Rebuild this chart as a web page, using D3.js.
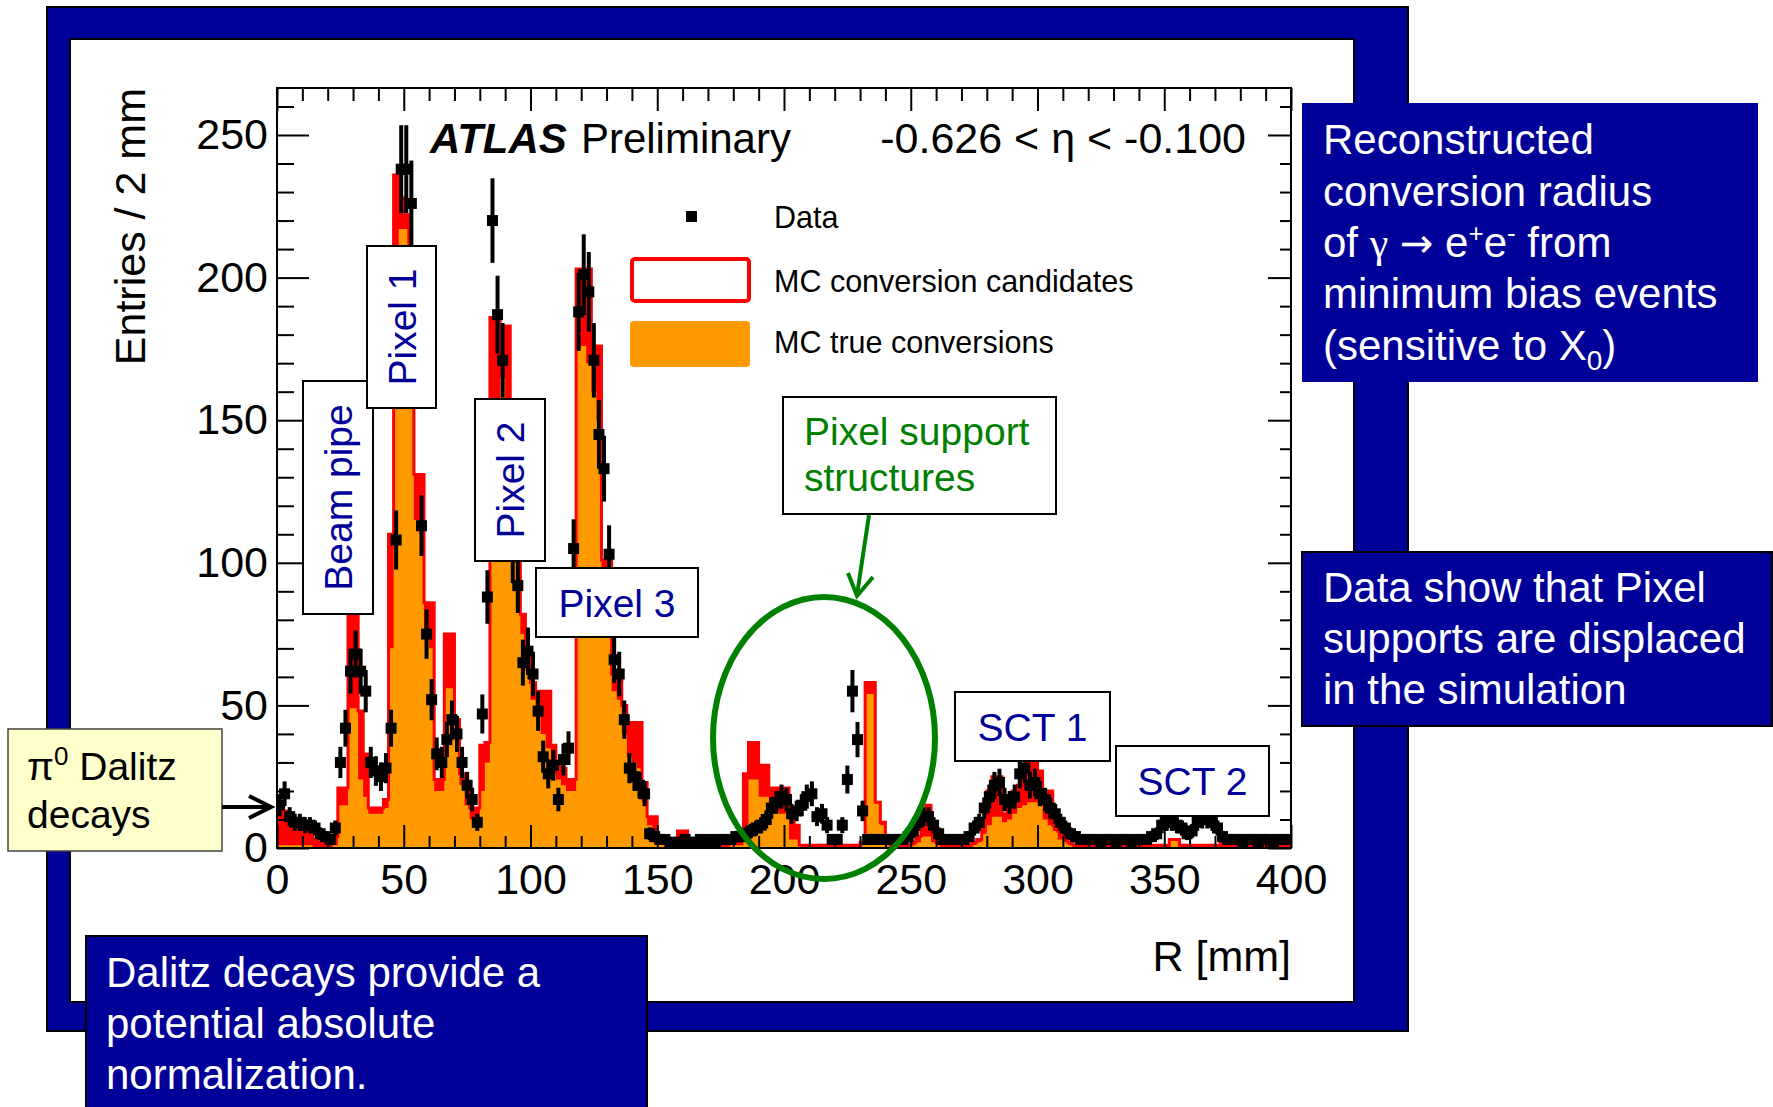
<!DOCTYPE html>
<html>
<head>
<meta charset="utf-8">
<title>Conversion radius</title>
<script src="https://d3js.org/d3.v7.min.js"></script>
<style>
  body { margin: 0; background: #fff; }
  svg { display: block; font-family: "Liberation Sans", Arial, Helvetica, sans-serif; }
</style>
</head>
<body>
<svg id="chart" width="1773" height="1107"></svg>
<script>
// R of gamma conversions, 2 mm bins from 0 to 400 mm (200 bins, 10 per row = 20 mm)
var binWidth = 2;

var dataCounts = [
  15, 19, 11, 9, 9, 8, 8, 7, 5, 4,
  3, 7, 30, 42, 62, 68, 62, 55, 30, 27,
  25, 28, 42, 108, 238, 238, 226, 175, 113, 75,
  52, 33, 30, 38, 45, 40, 30, 22, 17, 9,
  47, 88, 220, 187, 171, 140, 103, 92, 65, 69,
  61, 48, 32, 26, 29, 17, 31, 35, 105, 188,
  201, 195, 171, 145, 133, 103, 66, 61, 45, 28,
  25, 22, 19, 5, 4, 3, 3, 2, 2, 2,
  3, 2, 2, 3, 2, 3, 2, 3, 3, 3,
  4, 4, 5, 6, 7, 8, 10, 14, 16, 18,
  17, 12, 13, 15, 18, 19, 11, 12, 8, 3,
  3, 8, 24, 55, 38, 13, 3, 3, 3, 3,
  3, 3, 3, 3, 4, 6, 9, 11, 11, 8,
  5, 3, 3, 3, 3, 3, 4, 7, 9, 14,
  18, 22, 23, 17, 16, 18, 26, 28, 22, 23,
  19, 17, 14, 12, 9, 7, 5, 4, 3, 3,
  3, 3, 2, 3, 3, 2, 3, 3, 2, 3,
  3, 3, 4, 5, 8, 9, 9, 8, 7, 5,
  6, 9, 10, 10, 9, 7, 4, 3, 3, 3,
  2, 3, 3, 2, 3, 3, 2, 3, 3, 3
];

var mcCandidates = [
  13, 13, 8, 7, 7, 6, 5, 3, 2, 2,
  2, 4, 21, 21, 82, 82, 48, 33, 14, 14,
  14, 17, 110, 236, 228, 222, 210, 131, 131, 86,
  86, 24, 24, 75, 75, 45, 26, 22, 14, 14,
  36, 37, 186, 186, 183, 183, 135, 110, 82, 68,
  58, 55, 55, 55, 36, 30, 28, 24, 24, 203,
  203, 203, 176, 176, 101, 101, 61, 61, 50, 44,
  44, 44, 23, 11, 11, 3, 2, 2, 2, 6,
  6, 2, 1, 1, 1, 1, 1, 1, 1, 2,
  5, 5, 26, 37, 37, 29, 29, 21, 21, 21,
  21, 12, 8, 1, 1, 1, 1, 1, 1, 1,
  1, 1, 1, 1, 1, 2, 58, 58, 16, 9,
  2, 1, 1, 1, 1, 2, 4, 8, 15, 6,
  2, 1, 1, 1, 1, 1, 1, 2, 3, 10,
  20, 25, 25, 12, 14, 20, 22, 24, 30, 30,
  27, 20, 20, 8, 6, 4, 2, 1, 1, 1,
  1, 1, 1, 1, 1, 1, 1, 1, 1, 1,
  1, 1, 1, 1, 1, 1, 3, 3, 1, 1,
  1, 1, 1, 1, 1, 1, 5, 1, 1, 1,
  1, 1, 1, 1, 1, 1, 1, 1, 1, 1
];

var mcTrue = [
  1, 1, 1, 1, 1, 1, 1, 0, 0, 0,
  0, 1, 15, 15, 49, 49, 24, 18, 12, 12,
  12, 14, 70, 190, 217, 217, 200, 115, 110, 75,
  70, 20, 20, 56, 56, 38, 22, 15, 10, 8,
  20, 30, 153, 153, 165, 150, 120, 100, 75, 62,
  52, 46, 40, 35, 26, 24, 22, 20, 20, 176,
  176, 170, 160, 150, 90, 88, 55, 52, 40, 32,
  30, 28, 16, 8, 6, 2, 1, 1, 1, 2,
  2, 1, 0, 0, 0, 0, 0, 0, 0, 1,
  1, 1, 7, 24, 24, 18, 18, 13, 13, 12,
  12, 3, 3, 1, 0, 0, 0, 0, 0, 0,
  0, 0, 0, 0, 0, 1, 54, 54, 16, 8,
  1, 0, 0, 0, 0, 1, 2, 4, 4, 2,
  1, 0, 0, 0, 0, 0, 0, 1, 2, 5,
  8, 11, 11, 9, 10, 12, 14, 15, 16, 16,
  15, 10, 8, 6, 3, 2, 1, 0, 0, 0,
  0, 0, 0, 0, 0, 0, 0, 0, 0, 0,
  0, 0, 0, 0, 0, 0, 3, 3, 0, 0,
  0, 0, 0, 0, 0, 0, 0, 0, 0, 0,
  0, 0, 0, 0, 0, 0, 0, 0, 0, 0
];

var xTicks = [0, 50, 100, 150, 200, 250, 300, 350, 400];
var yTicks = [0, 50, 100, 150, 200, 250];
var legendLabels = ['Data', 'MC conversion candidates', 'MC true conversions'];
var detectorLabels = ['Beam pipe', 'Pixel 1', 'Pixel 2', 'Pixel 3', 'SCT 1', 'SCT 2'];

var navy = '#000099';
var green = '#008000';
var red = '#ff0000';
var orange = '#ff9900';

var svg = d3.select('#chart');

// slide frame
svg.append('rect').attr('x', 47).attr('y', 7).attr('width', 1361).attr('height', 1024)
  .attr('fill', navy).attr('stroke', '#000').attr('stroke-width', 2);
svg.append('rect').attr('x', 70).attr('y', 39).attr('width', 1284).attr('height', 963)
  .attr('fill', '#fff').attr('stroke', '#000').attr('stroke-width', 2);

// plot
var x = d3.scaleLinear().domain([0, 400]).range([277, 1291]);
var y = d3.scaleLinear().domain([0, 250]).range([848, 135]);
var yMax = y.invert(88);

svg.append('clipPath').attr('id', 'plotclip')
  .append('rect').attr('x', x(0)).attr('y', y(yMax)).attr('width', x(400) - x(0)).attr('height', y(0) - y(yMax));

var plot = svg.append('g').attr('clip-path', 'url(#plotclip)');

function stepPoints(vals) {
  var pts = vals.map(function(v, i) { return [i * binWidth, v]; });
  pts.push([vals.length * binWidth, vals[vals.length - 1]]);
  return pts;
}

var area = d3.area().curve(d3.curveStepAfter)
  .x(function(d) { return x(d[0]); })
  .y0(y(0))
  .y1(function(d) { return y(d[1]); });
var line = d3.line().curve(d3.curveStepAfter)
  .x(function(d) { return x(d[0]); })
  .y(function(d) { return y(d[1]); });

plot.append('path').datum(stepPoints(mcCandidates)).attr('d', area).attr('fill', red);
plot.append('path').datum(stepPoints(mcTrue)).attr('d', area).attr('fill', orange);
plot.append('path').datum(stepPoints(mcCandidates)).attr('d', line)
  .attr('fill', 'none').attr('stroke', red).attr('stroke-width', 3);

// data points with sqrt(N) errors
var points = dataCounts.map(function(n, i) {
  return { c: i * binWidth + binWidth / 2, n: n };
}).filter(function(d) { return d.n > 0; });

var dg = plot.append('g');
dg.selectAll('line.ey').data(points).join('line').attr('class', 'ey')
  .attr('x1', function(d) { return x(d.c); })
  .attr('x2', function(d) { return x(d.c); })
  .attr('y1', function(d) { return y(d.n + Math.sqrt(d.n)); })
  .attr('y2', function(d) { return y(Math.max(0, d.n - Math.sqrt(d.n))); })
  .attr('stroke', '#000').attr('stroke-width', 4);
dg.selectAll('line.ex').data(points).join('line').attr('class', 'ex')
  .attr('x1', function(d) { return x(d.c - binWidth / 2) - 1; })
  .attr('x2', function(d) { return x(d.c + binWidth / 2) + 1; })
  .attr('y1', function(d) { return y(d.n); })
  .attr('y2', function(d) { return y(d.n); })
  .attr('stroke', '#000').attr('stroke-width', 4);
dg.selectAll('rect').data(points).join('rect')
  .attr('x', function(d) { return x(d.c) - 5.5; })
  .attr('y', function(d) { return y(d.n) - 5.5; })
  .attr('width', 11).attr('height', 11).attr('fill', '#000');

// axes (drawn after the histograms, ticks point inwards)
var minorX = d3.range(0, 401, 10).filter(function(v) { return v % 50 !== 0; });
var minorY = d3.range(0, yMax, 10).filter(function(v) { return v % 50 !== 0; });

function styleAxis(g) {
  g.select('.domain').remove();
  g.selectAll('.tick line').attr('stroke', '#000').attr('stroke-width', 2);
  g.selectAll('.tick text').attr('fill', '#000').attr('font-size', 43)
    .attr('font-family', '"Liberation Sans", Arial, sans-serif');
}

svg.append('g').attr('transform', 'translate(0,' + y(0) + ')')
  .call(d3.axisBottom(x).tickValues(xTicks).tickSizeInner(-23).tickSizeOuter(0).tickPadding(15).tickFormat(d3.format('d')))
  .call(styleAxis);
svg.append('g').attr('transform', 'translate(0,' + y(0) + ')')
  .call(d3.axisBottom(x).tickValues(minorX).tickSize(-12).tickFormat(''))
  .call(styleAxis);
svg.append('g').attr('transform', 'translate(0,' + y(yMax) + ')')
  .call(d3.axisTop(x).tickValues(xTicks).tickSize(-23).tickFormat(''))
  .call(styleAxis);
svg.append('g').attr('transform', 'translate(0,' + y(yMax) + ')')
  .call(d3.axisTop(x).tickValues(minorX).tickSize(-13).tickFormat(''))
  .call(styleAxis);
svg.append('g').attr('transform', 'translate(' + x(0) + ',0)')
  .call(d3.axisLeft(y).tickValues(yTicks).tickSizeInner(-32).tickSizeOuter(0).tickPadding(9).tickFormat(d3.format('d')))
  .call(styleAxis);
svg.append('g').attr('transform', 'translate(' + x(0) + ',0)')
  .call(d3.axisLeft(y).tickValues(minorY).tickSize(-17).tickFormat(''))
  .call(styleAxis);
svg.append('g').attr('transform', 'translate(' + x(400) + ',0)')
  .call(d3.axisRight(y).tickValues(yTicks).tickSize(-23).tickFormat(''))
  .call(styleAxis);
svg.append('g').attr('transform', 'translate(' + x(400) + ',0)')
  .call(d3.axisRight(y).tickValues(minorY).tickSize(-11).tickFormat(''))
  .call(styleAxis);

svg.append('rect').attr('x', x(0)).attr('y', y(yMax)).attr('width', x(400) - x(0)).attr('height', y(0) - y(yMax))
  .attr('fill', 'none').attr('stroke', '#000').attr('stroke-width', 2);

// axis titles
svg.append('text').attr('transform', 'translate(145,' + y(yMax) + ') rotate(-90)')
  .attr('text-anchor', 'end').attr('font-size', 43).text('Entries / 2 mm');
svg.append('text').attr('x', x(400)).attr('y', 971).attr('text-anchor', 'end')
  .attr('font-size', 43).text('R [mm]');

// ATLAS label and eta range
var atlas = svg.append('text').attr('x', 430).attr('y', 153).attr('font-size', 42);
atlas.append('tspan').attr('font-weight', 'bold').attr('font-style', 'italic').text('ATLAS');
atlas.append('tspan').attr('dx', 14).text('Preliminary');
svg.append('text').attr('x', 1246).attr('y', 153).attr('text-anchor', 'end').attr('font-size', 43)
  .text('-0.626 < \u03b7 < -0.100');

// legend
var lg = svg.append('g').attr('font-size', 30.5);
lg.append('rect').attr('x', 686).attr('y', 211).attr('width', 11).attr('height', 11).attr('fill', '#000');
lg.append('rect').attr('x', 632).attr('y', 259).attr('width', 117).attr('height', 42).attr('rx', 3)
  .attr('fill', '#fff').attr('stroke', red).attr('stroke-width', 4);
lg.append('rect').attr('x', 630).attr('y', 321).attr('width', 120).attr('height', 46).attr('rx', 4)
  .attr('fill', orange);
lg.selectAll('text').data(legendLabels).join('text')
  .attr('x', 774)
  .attr('y', function(d, i) { return [228, 292, 353][i]; })
  .text(function(d) { return d; });

// detector labels
var boxes = [
  { x: 303, y: 381, w: 70, h: 233, rot: true },
  { x: 367, y: 246, w: 69, h: 162, rot: true },
  { x: 475, y: 399, w: 70, h: 162, rot: true },
  { x: 536, y: 568, w: 162, h: 69, rot: false },
  { x: 955, y: 692, w: 155, h: 69, rot: false },
  { x: 1116, y: 746, w: 153, h: 70, rot: false }
];
boxes.forEach(function(b, i) {
  svg.append('rect').attr('x', b.x).attr('y', b.y).attr('width', b.w).attr('height', b.h)
    .attr('fill', '#fff').attr('stroke', '#000').attr('stroke-width', 2);
  var cx = b.x + b.w / 2, cy = b.y + b.h / 2;
  svg.append('text')
    .attr('transform', 'translate(' + cx + ',' + cy + ')' + (b.rot ? ' rotate(-90)' : ''))
    .attr('text-anchor', 'middle').attr('dy', '0.36em')
    .attr('font-size', 39).attr('fill', navy)
    .text(detectorLabels[i]);
});

// pixel support structures
svg.append('ellipse').attr('cx', 824).attr('cy', 738).attr('rx', 111).attr('ry', 141)
  .attr('fill', 'none').attr('stroke', green).attr('stroke-width', 6);
svg.append('rect').attr('x', 783).attr('y', 397).attr('width', 273).attr('height', 117)
  .attr('fill', '#fff').attr('stroke', '#000').attr('stroke-width', 2);
svg.append('text').attr('x', 804).attr('y', 445).attr('font-size', 39).attr('fill', green).text('Pixel support');
svg.append('text').attr('x', 804).attr('y', 491).attr('font-size', 39).attr('fill', green).text('structures');
svg.append('line').attr('x1', 869).attr('y1', 515).attr('x2', 857).attr('y2', 595)
  .attr('stroke', green).attr('stroke-width', 4);
svg.append('path').attr('d', 'M848,573 L857,596 L873,577')
  .attr('fill', 'none').attr('stroke', green).attr('stroke-width', 4).attr('stroke-linejoin', 'miter');

// pi0 Dalitz box
svg.append('rect').attr('x', 8).attr('y', 729).attr('width', 214).attr('height', 122)
  .attr('fill', '#ffffcc').attr('stroke', '#444').attr('stroke-width', 1.5);
var dz = svg.append('text').attr('x', 27).attr('y', 780).attr('font-size', 39).attr('fill', '#000');
dz.append('tspan').text('\u03c0');
dz.append('tspan').attr('dy', -15).attr('font-size', 26).text('0');
dz.append('tspan').attr('dy', 15).text(' Dalitz');
svg.append('text').attr('x', 27).attr('y', 828).attr('font-size', 39).attr('fill', '#000').text('decays');
svg.append('line').attr('x1', 222).attr('y1', 807).attr('x2', 270).attr('y2', 807)
  .attr('stroke', '#000').attr('stroke-width', 4);
svg.append('path').attr('d', 'M249,796 L271,807 L249,818')
  .attr('fill', 'none').attr('stroke', '#000').attr('stroke-width', 4);

// side notes
function noteBox(x0, y0, w, h, border) {
  svg.append('rect').attr('x', x0).attr('y', y0).attr('width', w).attr('height', h)
    .attr('fill', navy).attr('stroke', border ? '#000' : 'none').attr('stroke-width', 2);
}

noteBox(1302, 103, 456, 279, false);
var n1 = svg.append('g').attr('font-size', 42).attr('fill', '#fff');
n1.append('text').attr('x', 1323).attr('y', 154).text('Reconstructed');
n1.append('text').attr('x', 1323).attr('y', 206).text('conversion radius');
var t3 = n1.append('text').attr('x', 1323).attr('y', 257);
t3.append('tspan').text('of ');
t3.append('tspan').attr('font-family', '"Liberation Serif", "Times New Roman", serif').text('\u03b3');
t3.append('tspan').text(' ');
t3.append('tspan').attr('font-family', '"DejaVu Sans", sans-serif').attr('font-size', 40).text('\u2192');
t3.append('tspan').text(' e');
t3.append('tspan').attr('dy', -15).attr('font-size', 26).text('+');
t3.append('tspan').attr('dy', 15).text('e');
t3.append('tspan').attr('dy', -15).attr('font-size', 26).text('-');
t3.append('tspan').attr('dy', 15).text(' from');
n1.append('text').attr('x', 1323).attr('y', 308).text('minimum bias events');
var t5 = n1.append('text').attr('x', 1323).attr('y', 360);
t5.append('tspan').text('(sensitive to X');
t5.append('tspan').attr('dy', 10).attr('font-size', 28).text('0');
t5.append('tspan').attr('dy', -10).text(')');

noteBox(1302, 552, 470, 174, true);
var n2 = svg.append('g').attr('font-size', 42).attr('fill', '#fff');
['Data show that Pixel', 'supports are displaced', 'in the simulation'].forEach(function(s, i) {
  n2.append('text').attr('x', 1323).attr('y', 602 + i * 51).text(s);
});

noteBox(86, 936, 561, 175, true);
var n3 = svg.append('g').attr('font-size', 42).attr('fill', '#fff');
['Dalitz decays provide a', 'potential absolute', 'normalization.'].forEach(function(s, i) {
  n3.append('text').attr('x', 106).attr('y', 987 + i * 51).text(s);
});
</script>
</body>
</html>
